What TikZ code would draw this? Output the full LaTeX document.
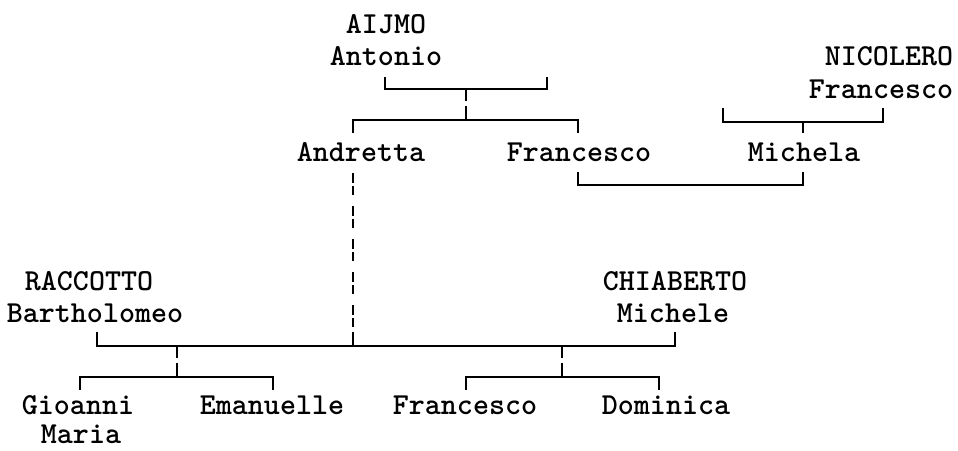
\documentclass[tikz,border=0pt]{standalone}
\usepackage{tikz}

\begin{document}
\begin{tikzpicture}[x=1pt, y=-1pt,
    every node/.style={font=\ttfamily\bfseries\fontsize{30.5}{32}\selectfont, inner sep=0pt, anchor=base},
    line/.style={line width=1.8pt}]
  \useasboundingbox (0,0) rectangle (958,450);

  % Persone
  \node (aijmo) at (386,33) {AIJMO};
  \node (antonio) at (386,65) {Antonio};
  \node (nicolero) at (889,65) {NICOLERO};
  \node (francescoN) at (881,98) {Francesco};
  \node (andretta) at (361,161) {Andretta};
  \node (francescoA) at (579,161) {Francesco};
  \node (michela) at (804,161) {Michela};
  \node (raccotto) at (89,290) {RACCOTTO};
  \node (bartholomeo) at (95,322) {Bartholomeo};
  \node (chiaberto) at (675,290) {CHIABERTO};
  \node (michele) at (673,322) {Michele};
  \node (gioanni) at (78,414) {Gioanni};
  \node (maria) at (81,443) {Maria};
  \node (emanuelle) at (272,414) {Emanuelle};
  \node (francescoR) at (465,414) {Francesco};
  \node (dominica) at (666,414) {Dominica};

  % Punti dei legami
  \coordinate (aijmoL) at (385,77);
  \coordinate (aijmoR) at (547,77);
  \coordinate (aijmoM) at (466,89);
  \coordinate (figliA) at (466,120);
  \coordinate (andrettaT) at (353,133);
  \coordinate (francescoAT) at (578,133);
  \coordinate (nicoleroL) at (723,108);
  \coordinate (nicoleroR) at (883,108);
  \coordinate (nicoleroM) at (803,122);
  \coordinate (michelaT) at (803,133);
  \coordinate (francescoAB) at (578,172);
  \coordinate (michelaB) at (803,172);
  \coordinate (andrettaB) at (353,173);
  \coordinate (nozzeM) at (353,346);
  \coordinate (raccottoB) at (97,332);
  \coordinate (chiabertoB) at (675,332);
  \coordinate (raccottoM) at (177,346);
  \coordinate (figliR) at (177,377);
  \coordinate (gioanniT) at (80,390);
  \coordinate (emanuelleT) at (273,390);
  \coordinate (chiabertoM) at (562,346);
  \coordinate (figliC) at (562,377);
  \coordinate (francescoRT) at (466,390);
  \coordinate (dominicaT) at (659,390);

  % Legami
  \draw[line] (aijmoL) |- (aijmoR |- aijmoM) -- (aijmoR);
  \draw[line] (aijmoM) -- ++(0,12);
  \draw[line] (figliA) -- ++(0,-14);
  \draw[line] (andrettaT) |- (francescoAT |- figliA) -- (francescoAT);
  \draw[line] (nicoleroL) |- (nicoleroR |- nicoleroM) -- (nicoleroR);
  \draw[line] (nicoleroM) -- (michelaT);
  \draw[line] (francescoAB) |- (michelaB |- 0,185) -- (michelaB);
  \draw[line, dash pattern=on 10pt off 3pt on 9pt off 11pt] (andrettaB) -- (353,331);
  \draw[line] (353,332) -- (nozzeM);
  \draw[line] (raccottoB) |- (chiabertoB |- nozzeM) -- (chiabertoB);
  \draw[line] (raccottoM) -- ++(0,12);
  \draw[line] (figliR) -- ++(0,-14);
  \draw[line] (gioanniT) |- (emanuelleT |- figliR) -- (emanuelleT);
  \draw[line] (chiabertoM) -- ++(0,12);
  \draw[line] (figliC) -- ++(0,-14);
  \draw[line] (francescoRT) |- (dominicaT |- figliC) -- (dominicaT);
\end{tikzpicture}
\end{document}
